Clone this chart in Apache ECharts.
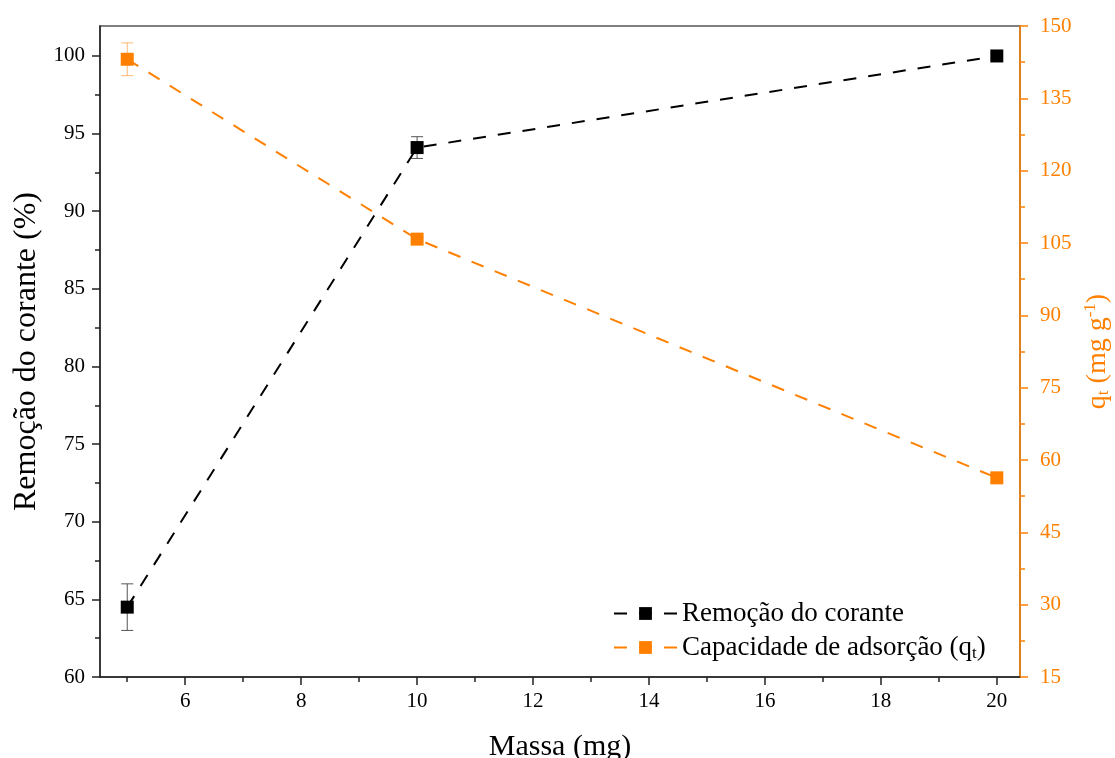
<!DOCTYPE html>
<html>
<head>
<meta charset="utf-8">
<script src="https://cdn.jsdelivr.net/npm/echarts@6/dist/echarts.min.js"></script>
<style>
html, body { margin: 0; padding: 0; background: #fff; }
#chart { width: 1115px; height: 758px; }
</style>
</head>
<body>
<div id="chart"></div>
<script>
// dados
const massa = [5, 10, 20];
const remocao = [64.5, 94.1, 100.0];
const remocaoErr = [1.5, 0.7, 0.15];
const capacidade = [143.1, 105.8, 56.3];
const capacidadeErr = [3.4, 0.5, 0.3];

const xLabels = [6, 8, 10, 12, 14, 16, 18, 20];
const xMinor = [5, 7, 9, 11, 13, 15, 17, 19];
const yLeftLabels = [60, 65, 70, 75, 80, 85, 90, 95, 100];
const yLeftMinor = [62.5, 67.5, 72.5, 77.5, 82.5, 87.5, 92.5, 97.5];
const yRightLabels = [15, 30, 45, 60, 75, 90, 105, 120, 135, 150];
const yRightMinor = [22.5, 37.5, 52.5, 67.5, 82.5, 97.5, 112.5, 127.5, 142.5];

const nomeRemocao = 'Remoção do corante';
const nomeCapacidade = 'Capacidade de adsorção (qt)';

const ORANGE = '#ff8000';
const FONT = 'Liberation Serif';

const X_MIN = 4.53, X_MAX = 20.4;
const YL_MIN = 60, YL_MAX = 101.93;
const YR_MIN = 15, YR_MAX = 150;

// barras de erro
function errorBars (color) {
    return function (params, api) {
        const x = api.value(0), y = api.value(1), e = api.value(2);
        const top = api.coord([x, y + e]);
        const bot = api.coord([x, y - e]);
        const hw = 6;
        const style = { stroke: color, lineWidth: 1 };
        return {
            type: 'group',
            children: [
                { type: 'line', shape: { x1: top[0], y1: top[1], x2: bot[0], y2: bot[1] }, style },
                { type: 'line', shape: { x1: top[0] - hw, y1: top[1], x2: top[0] + hw, y2: top[1] }, style },
                { type: 'line', shape: { x1: bot[0] - hw, y1: bot[1], x2: bot[0] + hw, y2: bot[1] }, style }
            ]
        };
    };
}

const dash = [13, 12];

const option = {
    animation: false,
    grid: {
        left: 100, right: 95, top: 26, bottom: 81,
        outerBoundsMode: 'none',
        containLabel: false,
        show: true, borderColor: '#555', borderWidth: 1.5
    },
    legend: {
        data: [nomeRemocao, nomeCapacidade],
        orient: 'vertical',
        left: 608,
        top: 595,
        itemWidth: 63,
        itemHeight: 16,
        itemGap: 7,
        textStyle: {
            fontFamily: FONT, fontSize: 27, color: '#000',
            rich: {
                n: { fontFamily: FONT, fontSize: 27, color: '#000' },
                s: { fontFamily: FONT, fontSize: 17, color: '#000', verticalAlign: 'bottom', padding: [12, 0, 0, 0] }
            }
        },
        formatter: function (name) {
            if (name === nomeCapacidade) return '{n|Capacidade de adsorção (q}{s|t}{n|)}';
            return '{n|' + name + '}';
        }
    },
    xAxis: [
        {
            type: 'value', min: X_MIN, max: X_MAX, position: 'bottom',
            name: 'Massa (mg)', nameLocation: 'middle', nameGap: 55,
            nameTextStyle: { fontFamily: FONT, fontSize: 30, color: '#000' },
            axisLine: { show: true, lineStyle: { color: '#222', width: 1.5 } },
            axisTick: { show: true, customValues: xLabels, length: 8, lineStyle: { color: '#222', width: 1.5 } },
            axisLabel: { customValues: xLabels, fontFamily: FONT, fontSize: 21, color: '#000', margin: 14 },
            splitLine: { show: false }
        },
        {
            type: 'value', min: X_MIN, max: X_MAX, position: 'bottom',
            axisLine: { show: false },
            axisTick: { show: true, customValues: xMinor, length: 5, lineStyle: { color: '#222', width: 1.5 } },
            axisLabel: { show: false },
            splitLine: { show: false }
        }
    ],
    yAxis: [
        {
            type: 'value', min: YL_MIN, max: YL_MAX, position: 'left',
            name: 'Remoção do corante (%)', nameLocation: 'middle', nameGap: 54, nameRotate: 90,
            nameTextStyle: { fontFamily: FONT, fontSize: 32, color: '#000' },
            axisLine: { show: true, lineStyle: { color: '#222', width: 1.5 } },
            axisTick: { show: true, customValues: yLeftLabels, length: 8, lineStyle: { color: '#222', width: 1.5 } },
            axisLabel: { customValues: yLeftLabels, fontFamily: FONT, fontSize: 21, color: '#000', margin: 15 },
            splitLine: { show: false }
        },
        {
            type: 'value', min: YR_MIN, max: YR_MAX, position: 'right',
            name: '{a|q}{s|t}{a| (mg g}{p|-1}{a|)}', nameLocation: 'middle', nameGap: 58, nameRotate: 90,
            nameTextStyle: {
                fontFamily: FONT, fontSize: 28, color: ORANGE,
                rich: {
                    a: { fontFamily: FONT, fontSize: 28, color: ORANGE },
                    s: { fontFamily: FONT, fontSize: 17, color: ORANGE, verticalAlign: 'bottom', padding: [13, 0, 0, 0] },
                    p: { fontFamily: FONT, fontSize: 17, color: ORANGE, verticalAlign: 'top', padding: [0, 0, 13, 0] }
                }
            },
            axisLine: { show: true, lineStyle: { color: ORANGE, width: 1.5 } },
            axisTick: { show: true, customValues: yRightLabels, length: 8, lineStyle: { color: ORANGE, width: 1.5 } },
            axisLabel: { customValues: yRightLabels, fontFamily: FONT, fontSize: 21, color: ORANGE, margin: 20 },
            splitLine: { show: false }
        },
        {
            type: 'value', min: YL_MIN, max: YL_MAX, position: 'left',
            axisLine: { show: false },
            axisTick: { show: true, customValues: yLeftMinor, length: 5, lineStyle: { color: '#222', width: 1.5 } },
            axisLabel: { show: false },
            splitLine: { show: false }
        },
        {
            type: 'value', min: YR_MIN, max: YR_MAX, position: 'right',
            axisLine: { show: false },
            axisTick: { show: true, customValues: yRightMinor, length: 5, lineStyle: { color: ORANGE, width: 1.5 } },
            axisLabel: { show: false },
            splitLine: { show: false }
        }
    ],
    series: [
        {
            type: 'custom', name: 'erroRemocao', xAxisIndex: 0, yAxisIndex: 0, z: 1,
            renderItem: errorBars('#555'),
            data: massa.map((m, i) => [m, remocao[i], remocaoErr[i]]),
            silent: true
        },
        {
            type: 'custom', name: 'erroCapacidade', xAxisIndex: 0, yAxisIndex: 1, z: 1,
            renderItem: errorBars('rgba(255,128,0,0.55)'),
            data: massa.map((m, i) => [m, capacidade[i], capacidadeErr[i]]),
            silent: true
        },
        {
            type: 'line', name: nomeRemocao, xAxisIndex: 0, yAxisIndex: 0, z: 3,
            data: massa.map((m, i) => [m, remocao[i]]),
            symbol: 'rect', symbolSize: 13, showSymbol: true,
            itemStyle: { color: '#000' },
            lineStyle: { color: '#000', width: 2, type: dash },
            silent: true
        },
        {
            type: 'line', name: nomeCapacidade, xAxisIndex: 0, yAxisIndex: 1, z: 3,
            data: massa.map((m, i) => [m, capacidade[i]]),
            symbol: 'rect', symbolSize: 13, showSymbol: true,
            itemStyle: { color: ORANGE },
            lineStyle: { color: ORANGE, width: 2, type: dash },
            silent: true
        }
    ]
};

const chart = echarts.init(document.getElementById('chart'));
chart.setOption(option);
</script>
</body>
</html>
